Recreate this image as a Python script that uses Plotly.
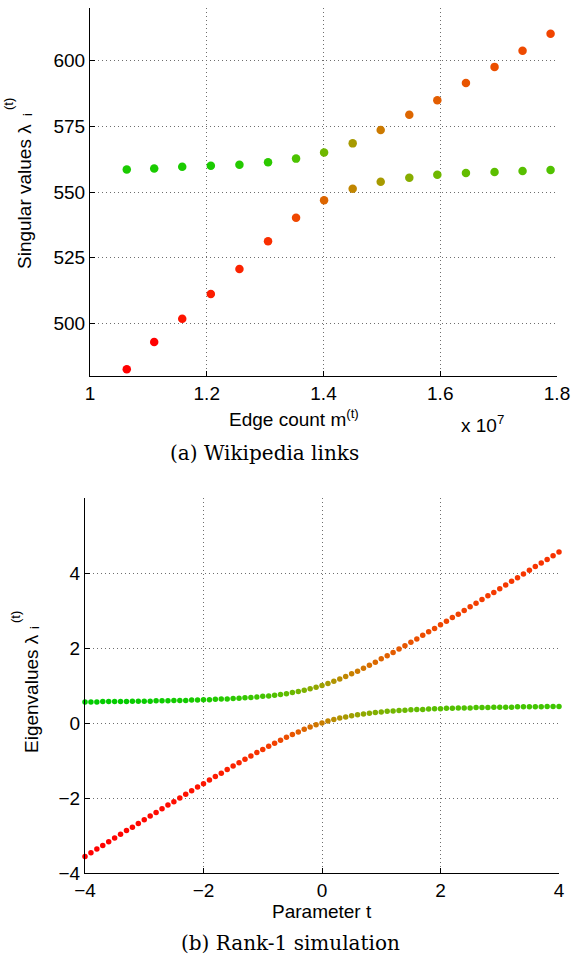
import plotly.graph_objects as go

# ---- (a) Wikipedia links: the two largest singular values per snapshot ----
edge_count = [10630000, 11100000, 11580000, 12070000, 12560000, 13050000, 13530000, 14010000,
              14500000, 14980000, 15470000, 15950000, 16440000, 16930000, 17410000, 17890000]
sv_first = [558.6, 558.9, 559.6, 560.0, 560.4, 561.3, 562.7, 565.0,
            568.5, 573.6, 579.4, 584.9, 591.5, 597.6, 603.7, 610.2]
sv_second = [482.6, 492.9, 501.8, 511.2, 520.7, 531.3, 540.2, 546.9,
             551.2, 553.9, 555.4, 556.6, 557.2, 557.6, 558.0, 558.4]
# overlap of each singular vector with the first snapshot's second vector
overlap_first = [0.01, 0.01, 0.01, 0.01, 0.02, 0.03, 0.09, 0.19,
                 0.43, 0.64, 0.75, 0.79, 0.83, 0.85, 0.87, 0.89]
overlap_second = [1.00, 1.00, 0.99, 0.98, 0.97, 0.95, 0.88, 0.75,
                  0.57, 0.43, 0.28, 0.19, 0.15, 0.13, 0.12, 0.10]
edge_ticks = [10000000, 12000000, 14000000, 16000000, 18000000]
edge_tick_text = ["1", "1.2", "1.4", "1.6", "1.8"]
sv_ticks = [500, 525, 550, 575, 600]

# ---- (b) Rank-1 simulation: eigenvalues of a 2x2 matrix along parameter t ----
param_t = [-4.0, -3.9, -3.8, -3.7, -3.6, -3.5, -3.4, -3.3, -3.2, -3.1,
           -3.0, -2.9, -2.8, -2.7, -2.6, -2.5, -2.4, -2.3, -2.2, -2.1,
           -2.0, -1.9, -1.8, -1.7, -1.6, -1.5, -1.4, -1.3, -1.2, -1.1,
           -1.0, -0.9, -0.8, -0.7, -0.6, -0.5, -0.4, -0.3, -0.2, -0.1,
           0.0,
           0.1, 0.2, 0.3, 0.4, 0.5, 0.6, 0.7, 0.8, 0.9, 1.0,
           1.1, 1.2, 1.3, 1.4, 1.5, 1.6, 1.7, 1.8, 1.9, 2.0,
           2.1, 2.2, 2.3, 2.4, 2.5, 2.6, 2.7, 2.8, 2.9, 3.0,
           3.1, 3.2, 3.3, 3.4, 3.5, 3.6, 3.7, 3.8, 3.9, 4.0]
eig_upper = [0.56, 0.56, 0.56, 0.57, 0.57, 0.57, 0.57, 0.57, 0.58, 0.58,
             0.58, 0.58, 0.59, 0.59, 0.59, 0.60, 0.60, 0.60, 0.61, 0.61,
             0.62, 0.62, 0.63, 0.64, 0.64, 0.65, 0.66, 0.67, 0.68, 0.69,
             0.71, 0.72, 0.74, 0.76, 0.78, 0.81, 0.84, 0.87, 0.91, 0.95,
             1.00,
             1.05, 1.11, 1.17, 1.24, 1.31, 1.38, 1.46, 1.54, 1.62, 1.71,
             1.79, 1.88, 1.97, 2.06, 2.15, 2.24, 2.34, 2.43, 2.52, 2.62,
             2.71, 2.81, 2.90, 3.00, 3.10, 3.19, 3.29, 3.39, 3.48, 3.58,
             3.68, 3.78, 3.87, 3.97, 4.07, 4.17, 4.27, 4.36, 4.46, 4.56]
eig_lower = [-3.56, -3.46, -3.36, -3.27, -3.17, -3.07, -2.97, -2.87, -2.78, -2.68,
             -2.58, -2.48, -2.39, -2.29, -2.19, -2.10, -2.00, -1.90, -1.81, -1.71,
             -1.62, -1.52, -1.43, -1.34, -1.24, -1.15, -1.06, -0.97, -0.88, -0.79,
             -0.71, -0.62, -0.54, -0.46, -0.38, -0.31, -0.24, -0.17, -0.11, -0.05,
             0.00,
             0.05, 0.09, 0.13, 0.16, 0.19, 0.22, 0.24, 0.26, 0.28, 0.29,
             0.31, 0.32, 0.33, 0.34, 0.35, 0.36, 0.36, 0.37, 0.38, 0.38,
             0.39, 0.39, 0.40, 0.40, 0.40, 0.41, 0.41, 0.41, 0.42, 0.42,
             0.42, 0.42, 0.43, 0.43, 0.43, 0.43, 0.43, 0.44, 0.44, 0.44]
param_ticks = [-4, -2, 0, 2, 4]
eig_ticks = [-4, -2, 0, 2, 4]


def share_colour(share):
    """Blend green (share 0) into red (share 1)."""
    r = 255 * share ** 0.5
    g = 204 * (1 - share) ** 0.5
    return f"rgb({r:.0f},{g:.0f},0)"


def eigvec(lam):
    # eigenvector of [[t+0.5, 0.5], [0.5, 0.5]] belonging to eigenvalue lam
    x, y = lam - 0.5, 0.5
    n = (x * x + y * y) ** 0.5
    return x / n, y / n


def sim_shares(values):
    # squared overlap with the eigenvector of the smallest eigenvalue at the first t
    rx, ry = eigvec(eig_lower[0])
    out = []
    for lam in values:
        vx, vy = eigvec(lam)
        out.append((vx * rx + vy * ry) ** 2)
    return out


W, H = 573, 959
SANS = "Liberation Sans, Arial, Helvetica, sans-serif"
SERIF = "DejaVu Serif, serif"


def px(x):
    return x / W


def py(y):
    return 1 - y / H


fig = go.Figure()

for ys, share in ((sv_first, overlap_first), (sv_second, overlap_second)):
    fig.add_trace(go.Scatter(
        x=edge_count, y=ys, mode="markers", xaxis="x", yaxis="y",
        marker=dict(size=8.5, color=[share_colour(s) for s in share], line=dict(width=0)),
        cliponaxis=False, showlegend=False, hoverinfo="skip"))

for ys in (eig_upper, eig_lower):
    fig.add_trace(go.Scatter(
        x=param_t, y=ys, mode="markers", xaxis="x2", yaxis="y2",
        marker=dict(size=5.5, color=[share_colour(s) for s in sim_shares(ys)], line=dict(width=0)),
        cliponaxis=False, showlegend=False, hoverinfo="skip"))

axis_common = dict(
    showgrid=True, gridcolor="#6e6e6e", griddash="1px,3px", gridwidth=1,
    showline=True, linecolor="black", linewidth=1,
    ticks="inside", ticklen=5, tickcolor="black", tickwidth=1,
    zeroline=False, mirror=False, automargin=False,
    tickfont=dict(family=SANS, size=19, color="black"),
)

fig.update_layout(
    width=W, height=H,
    margin=dict(l=0, r=0, t=0, b=0, autoexpand=False),
    paper_bgcolor="white", plot_bgcolor="white",
    xaxis=dict(domain=[px(90), px(557)], range=[10000000, 18000000],
               tickvals=edge_ticks, ticktext=edge_tick_text, anchor="y", **axis_common),
    yaxis=dict(domain=[py(376), py(8)], range=[480, 620],
               tickvals=sv_ticks, anchor="x", **axis_common),
    xaxis2=dict(domain=[px(85), px(559)], range=[-4, 4],
                tickvals=param_ticks, anchor="y2", **axis_common),
    yaxis2=dict(domain=[py(873), py(498)], range=[-4, 6],
                tickvals=eig_ticks, anchor="x2", **axis_common),
)


def note(text, x, y, size=19, family=SANS, angle=0):
    fig.add_annotation(text=text, x=px(x), y=py(y), xref="paper", yref="paper",
                       showarrow=False, textangle=angle,
                       font=dict(family=family, size=size, color="black"),
                       xanchor="center", yanchor="middle")


# axis titles and captions, panel (a)
note("Edge count m<sup>(t)</sup>", 294, 418)
note("x 10<sup>7</sup>", 482, 424)
note("(a) Wikipedia links", 264, 453, size=20, family=SERIF)
note("Singular values λ", 25, 197, angle=-90)
note("(t)", 9, 104, size=13, angle=-90)
note("i", 28, 115, size=13, angle=-90)

# axis titles and captions, panel (b)
note("Parameter t", 322, 911)
note("(b) Rank-1 simulation", 290, 943, size=20, family=SERIF)
note("Eigenvalues λ", 31, 694, angle=-90)
note("(t)", 15, 617, size=13, angle=-90)
note("i", 34, 628, size=13, angle=-90)

fig.write_html("out.html")
